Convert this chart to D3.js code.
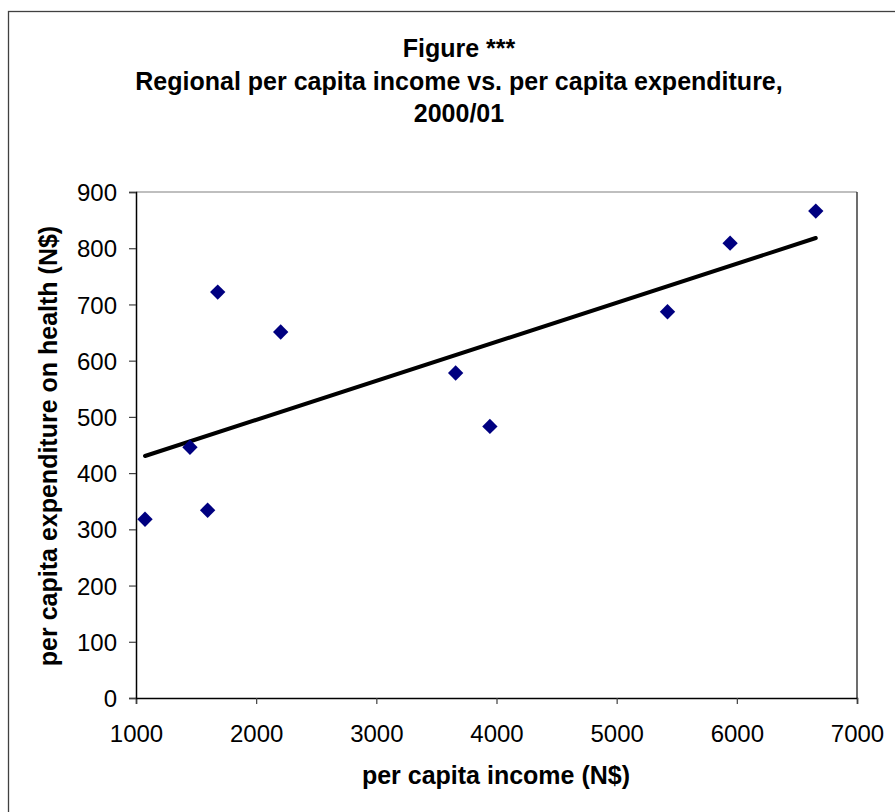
<!DOCTYPE html>
<html>
<head>
<meta charset="utf-8">
<script src="https://cdn.jsdelivr.net/npm/d3@7"></script>
<style>
  html, body { margin: 0; padding: 0; background: #fff; }
  svg { display: block; font-family: "Liberation Sans", Arial, sans-serif; }
</style>
</head>
<body>
<svg id="chart" width="895" height="812"></svg>
<script>
// Regional per capita income (N$) and per capita health expenditure (N$), 2000/01
const incomeValues = [1075, 1449, 1596, 1680, 2204, 3660, 3945, 5423, 5944, 6657];
const healthValues = [318, 446, 334, 722, 651, 578, 483, 687, 809, 866];
const xTicks = [1000, 2000, 3000, 4000, 5000, 6000, 7000];
const yTicks = [0, 100, 200, 300, 400, 500, 600, 700, 800, 900];
const titleLines = ["Figure ***", "Regional per capita income vs. per capita expenditure,", "2000/01"];

const W = 895, H = 812;
const plot = { left: 136, right: 857, top: 192, bottom: 698 };
const tickFont = "24px", labelFont = "25px";

const svg = d3.select("#chart");

// outer chart frame
svg.append("rect")
  .attr("x", 8.5).attr("y", 11.5)
  .attr("width", W + 10).attr("height", H + 10)
  .attr("fill", "#fff").attr("stroke", "#404040").attr("stroke-width", 1.3);

const x = d3.scaleLinear().domain([1000, 7000]).range([plot.left, plot.right]);
const y = d3.scaleLinear().domain([0, 900]).range([plot.bottom, plot.top]);

// plot area border: grey top edge, dark right edge
svg.append("line")
  .attr("x1", plot.left).attr("x2", plot.right)
  .attr("y1", plot.top).attr("y2", plot.top)
  .attr("stroke", "#808080").attr("stroke-width", 1.2);
svg.append("line")
  .attr("x1", plot.right).attr("x2", plot.right)
  .attr("y1", plot.top).attr("y2", plot.bottom)
  .attr("stroke", "#202020").attr("stroke-width", 1.3);

// axes
const xAxis = svg.append("g")
  .attr("transform", `translate(0,${plot.bottom})`)
  .call(d3.axisBottom(x).tickValues(xTicks).tickFormat(d3.format("d")).tickSizeOuter(0).tickSize(6).tickPadding(21));
const yAxis = svg.append("g")
  .attr("transform", `translate(${plot.left},0)`)
  .call(d3.axisLeft(y).tickValues(yTicks).tickFormat(d3.format("d")).tickSizeOuter(0).tickSize(7).tickPadding(12));

[xAxis, yAxis].forEach(g => {
  g.select(".domain").attr("stroke", "#000").attr("stroke-width", 1.5);
  g.selectAll(".tick line").attr("stroke", "#404040").attr("stroke-width", 1.2);
  g.selectAll(".tick text")
    .attr("fill", "#000")
    .style("font-size", tickFont)
    .style("font-family", "'Liberation Sans', Arial, sans-serif");
});
xAxis.selectAll(".tick text").attr("dy", "0.71em");
yAxis.selectAll(".tick text").attr("dy", "0.36em");

// least-squares trend line over the observed income range
const n = incomeValues.length;
const mx = d3.mean(incomeValues), my = d3.mean(healthValues);
let sxy = 0, sxx = 0;
for (let i = 0; i < n; i++) {
  sxy += (incomeValues[i] - mx) * (healthValues[i] - my);
  sxx += (incomeValues[i] - mx) ** 2;
}
const slope = sxy / sxx, intercept = my - slope * mx;
const [x0, x1] = d3.extent(incomeValues);
svg.append("line")
  .attr("x1", x(x0)).attr("y1", y(intercept + slope * x0))
  .attr("x2", x(x1)).attr("y2", y(intercept + slope * x1))
  .attr("stroke", "#000").attr("stroke-width", 4).attr("stroke-linecap", "round");

// diamond markers
const diamond = d3.symbol().type(d3.symbolDiamond2).size(150);
svg.append("g").selectAll("path")
  .data(incomeValues.map((v, i) => [v, healthValues[i]]))
  .join("path")
  .attr("d", diamond)
  .attr("transform", d => `translate(${x(d[0])},${y(d[1])})`)
  .attr("fill", "#000080");

// title
const title = svg.append("text")
  .attr("text-anchor", "middle")
  .attr("font-weight", "bold")
  .style("font-size", labelFont);
titleLines.forEach((t, i) => {
  title.append("tspan").attr("x", 459).attr("y", 57 + i * 32.5).text(t);
});

// axis titles
svg.append("text")
  .attr("x", 496).attr("y", 784)
  .attr("text-anchor", "middle").attr("font-weight", "bold")
  .style("font-size", labelFont)
  .text("per capita income (N$)");
svg.append("text")
  .attr("transform", "translate(57,446) rotate(-90)")
  .attr("text-anchor", "middle").attr("font-weight", "bold")
  .style("font-size", labelFont)
  .text("per capita expenditure on health (N$)");
</script>
</body>
</html>
